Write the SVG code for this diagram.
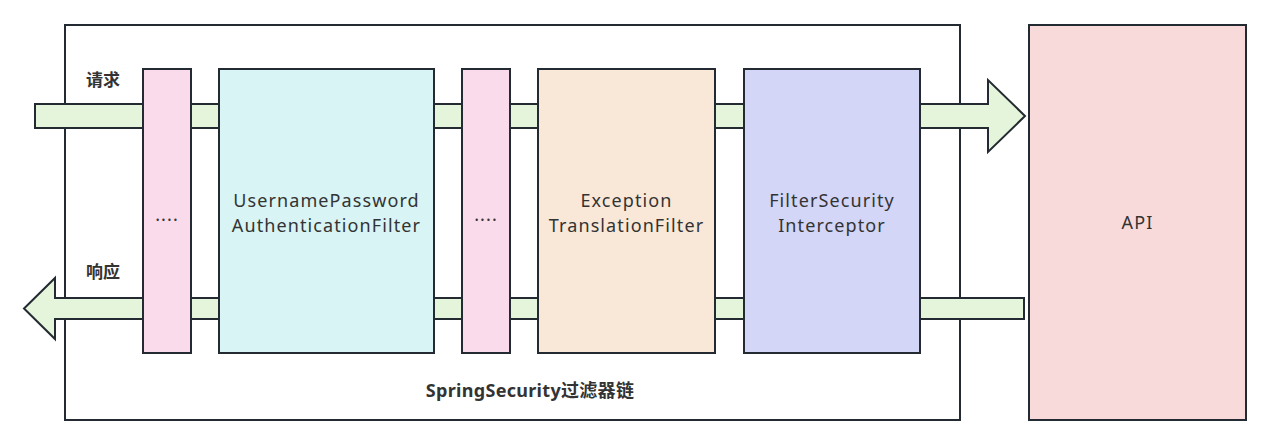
<svg xmlns="http://www.w3.org/2000/svg" width="1271" height="446" viewBox="0 0 1271 446">
<style>
.box{stroke:#232a31;stroke-width:2}
.arr{fill:#e5f5dc;stroke:#232a31;stroke-width:2;stroke-linejoin:miter}
.t{font-family:"Noto Sans","Noto Sans CJK SC",sans-serif;font-size:18px;letter-spacing:1.1px;fill:#333;text-anchor:middle}
.b{font-family:"Noto Sans","Noto Sans CJK SC",sans-serif;font-size:17px;font-weight:bold;fill:#333}
</style>
<rect width="1271" height="446" fill="#fff"/>
<g id="chain">
<rect class="box" x="65" y="25" width="895" height="395" fill="#fff"/>
<text class="b" x="530" y="397" text-anchor="middle" style="font-size:18px;letter-spacing:0.3px">SpringSecurity过滤器链</text>
</g>
<g id="connectors">
<path class="arr" d="M35,104 H988 V80 L1025,116 L988,152 V128 H35 Z"/>
<path class="arr" d="M1024,298 H55 V278 L24,308.5 L55,339 V319 H1024 Z"/>
<text class="b" x="86" y="86">请求</text>
<text class="b" x="86" y="278">响应</text>
</g>
<g id="dots1">
<rect class="box" x="143" y="69" width="48" height="284" fill="#f9dbeb"/>
<text class="t" x="167" y="221">....</text>
</g>
<g id="upaf">
<rect class="box" x="219" y="69" width="215" height="284" fill="#d9f4f4"/>
<text class="t" x="326.5" y="207">UsernamePassword</text>
<text class="t" x="326.5" y="232">AuthenticationFilter</text>
</g>
<g id="dots2">
<rect class="box" x="462" y="69" width="48" height="284" fill="#f9dbeb"/>
<text class="t" x="486" y="221">....</text>
</g>
<g id="etf">
<rect class="box" x="538" y="69" width="177" height="284" fill="#f9e8d8"/>
<text class="t" x="626.5" y="207">Exception</text>
<text class="t" x="626.5" y="232">TranslationFilter</text>
</g>
<g id="fsi">
<rect class="box" x="744" y="69" width="176" height="284" fill="#d4d6f7"/>
<text class="t" x="832" y="207">FilterSecurity</text>
<text class="t" x="832" y="232">Interceptor</text>
</g>
<g id="api">
<rect class="box" x="1029" y="25" width="217" height="395" fill="#f9dada"/>
<text class="t" x="1137.5" y="229">API</text>
</g>
</svg>
